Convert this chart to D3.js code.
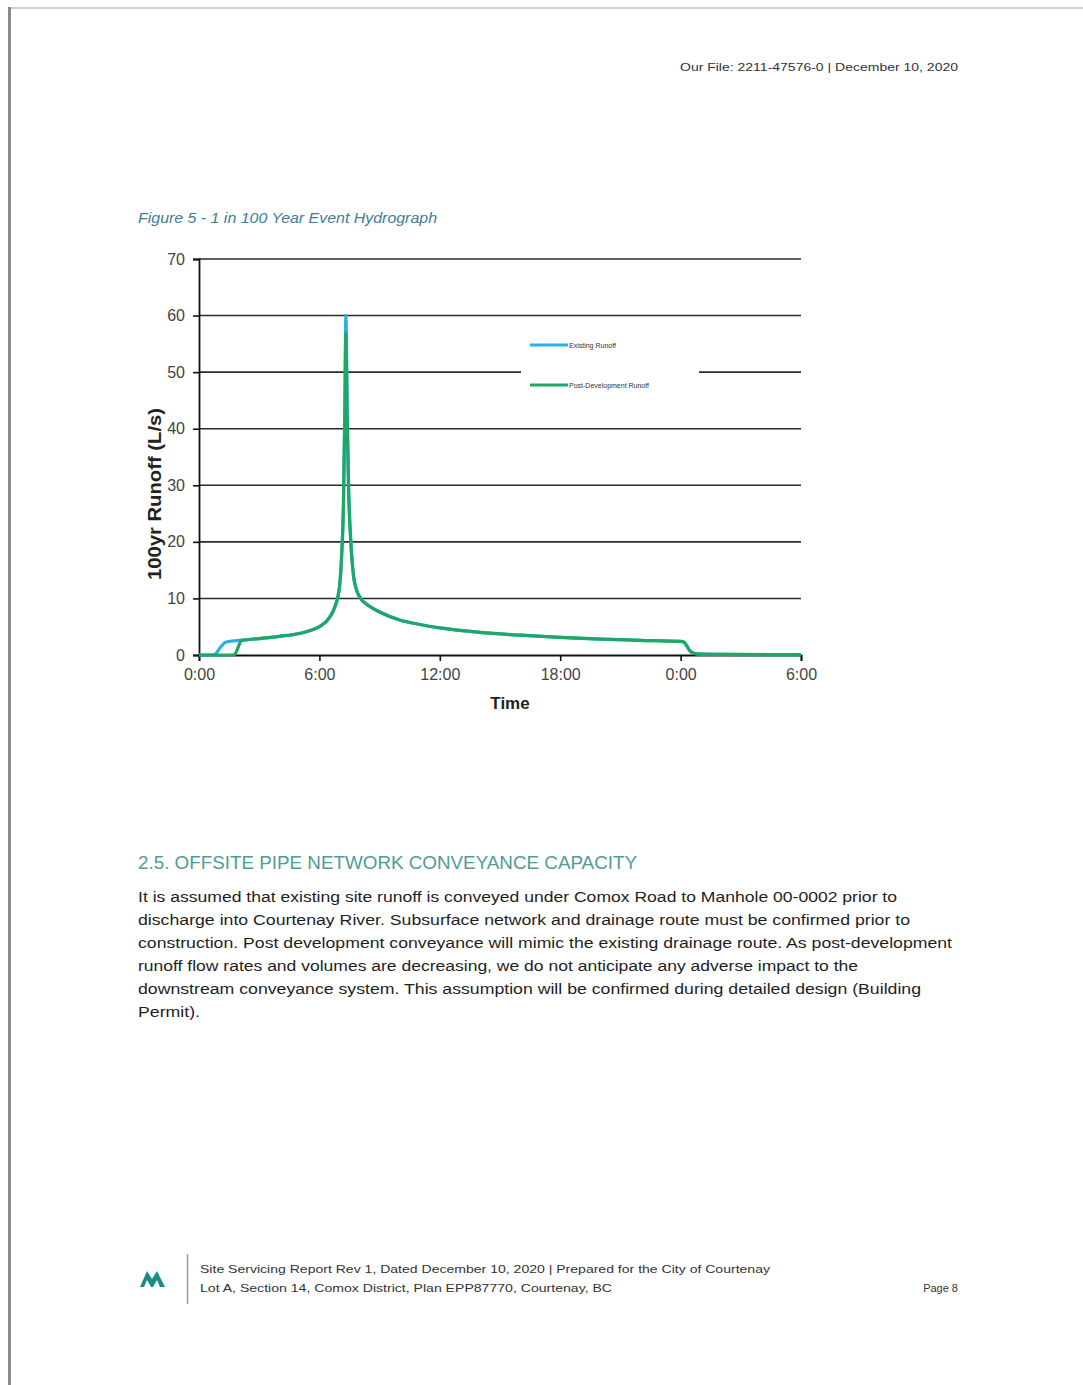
<!DOCTYPE html>
<html>
<head>
<meta charset="utf-8">
<script src="https://cdn.jsdelivr.net/npm/d3@7/dist/d3.min.js"></script>
<style>
  html, body { margin: 0; padding: 0; background: #fff; }
  svg { display: block; font-family: "Liberation Sans", Arial, sans-serif; }
</style>
</head>
<body>
<svg id="page" width="1083" height="1385"></svg>
<script>
// Hydrograph time base (hours from start of storm) and runoff in L/s
const timeHours = [0, 0.75, 0.85, 1.1, 1.3, 1.6, 1.75, 1.85, 2.0, 2.1, 2.3,
  3, 4, 5, 5.5, 6, 6.5, 6.75, 7.0, 7.1, 7.2, 7.27, 7.32, 7.38, 7.45, 7.55,
  7.7, 7.85, 8, 8.5, 9, 10, 11, 12, 14, 16, 18, 20, 22, 24, 24.15, 24.5,
  24.8, 26, 30];
const existingRunoff = [0, 0, 0.3, 1.5, 2.2, 2.45, 2.5, 2.55, 2.6, 2.62, 2.68,
  2.9, 3.3, 3.8, 4.3, 5.0, 6.6, 8.3, 12, 17, 27, 45, 60, 45, 30, 21,
  14, 11.5, 10.3, 8.6, 7.6, 6.2, 5.4, 4.8, 4.0, 3.5, 3.1, 2.8, 2.6, 2.4, 2.3, 0.6,
  0.2, 0.1, 0.05];
const postDevRunoff = [0, 0, 0, 0, 0, 0, 0, 0.5, 1.8, 2.5, 2.65,
  2.9, 3.3, 3.8, 4.3, 5.0, 6.6, 8.3, 12, 17, 27, 43, 57, 43, 30, 21,
  14, 11.5, 10.3, 8.6, 7.6, 6.2, 5.4, 4.8, 4.0, 3.5, 3.1, 2.8, 2.6, 2.4, 2.3, 0.6,
  0.2, 0.1, 0.05];

const seriesNames = ["Existing Runoff", "Post-Development Runoff"];
const seriesColors = ["#2bb0e6", "#1fa865"];

const xTickHours = [0, 6, 12, 18, 24, 30];
const xTickLabels = ["0:00", "6:00", "12:00", "18:00", "0:00", "6:00"];
const yTicks = [0, 10, 20, 30, 40, 50, 60, 70];

const bodyLines = [
  "It is assumed that existing site runoff is conveyed under Comox Road to Manhole 00-0002 prior to",
  "discharge into Courtenay River.  Subsurface network and drainage route must be confirmed prior to",
  "construction. Post development conveyance will mimic the existing drainage route.  As post-development",
  "runoff flow rates and volumes are decreasing, we do not anticipate any adverse impact to the",
  "downstream conveyance system.  This assumption will be confirmed during detailed design (Building",
  "Permit)."
];
const bodyLineWidths = [759, 772, 814, 720, 783, 62];

const svg = d3.select("#page");

// ---- page frame ----
svg.append("line").attr("x1", 9).attr("y1", 8).attr("x2", 1083).attr("y2", 8)
  .attr("stroke", "#cfcfcf").attr("stroke-width", 2);
svg.append("line").attr("x1", 9.5).attr("y1", 7).attr("x2", 9.5).attr("y2", 1385)
  .attr("stroke", "#8a8a8a").attr("stroke-width", 3);

// ---- header ----
svg.append("text").attr("x", 958).attr("y", 71).attr("text-anchor", "end")
  .attr("font-size", 11).attr("fill", "#333")
  .attr("textLength", 278).attr("lengthAdjust", "spacingAndGlyphs")
  .text("Our File: 2211-47576-0 | December 10, 2020");

svg.append("text").attr("x", 138).attr("y", 223)
  .attr("font-size", 14).attr("font-style", "italic").attr("fill", "#3f7d98")
  .attr("textLength", 299).attr("lengthAdjust", "spacingAndGlyphs")
  .text("Figure 5 - 1 in 100 Year Event Hydrograph");

// ---- chart ----
const plot = { left: 199, right: 801, top: 259, bottom: 655 };
const x = d3.scaleLinear().domain([0, 30]).range([plot.left, plot.right]);
const y = d3.scaleLinear().domain([0, 70]).range([plot.bottom, plot.top]);

const chart = svg.append("g");

// horizontal gridlines
chart.append("g").selectAll("line").data(yTicks.filter(d => d > 0)).join("line")
  .attr("x1", plot.left).attr("x2", plot.right)
  .attr("y1", d => y(d)).attr("y2", d => y(d))
  .attr("stroke", "#2b2b2b").attr("stroke-width", 1.6);

// y axis
const yAxis = chart.append("g").attr("transform", `translate(${plot.left},0)`)
  .call(d3.axisLeft(y).tickValues(yTicks).tickSize(6).tickPadding(8).tickFormat(d3.format("d")));
yAxis.select(".domain").attr("stroke", "#111").attr("stroke-width", 1.8);
yAxis.selectAll(".tick line").attr("stroke", "#111").attr("stroke-width", 1.6);
yAxis.selectAll(".tick text").attr("font-size", 16).attr("fill", "#444")
  .attr("font-family", "Liberation Sans, Arial, sans-serif");

// x axis
const xAxis = chart.append("g").attr("transform", `translate(0,${plot.bottom})`)
  .call(d3.axisBottom(x).tickValues(xTickHours).tickSize(6).tickPadding(8)
    .tickFormat((d, i) => xTickLabels[i]));
xAxis.select(".domain").attr("stroke", "#111").attr("stroke-width", 1.8);
xAxis.selectAll(".tick line").attr("stroke", "#111").attr("stroke-width", 1.6);
xAxis.selectAll(".tick text").attr("font-size", 16).attr("fill", "#444")
  .attr("font-family", "Liberation Sans, Arial, sans-serif");

// axis titles
svg.append("text").attr("x", 510).attr("y", 709).attr("text-anchor", "middle")
  .attr("font-size", 17).attr("font-weight", "bold").attr("fill", "#222").text("Time");
svg.append("text").attr("transform", "translate(161,494) rotate(-90)")
  .attr("text-anchor", "middle").attr("font-size", 18).attr("font-weight", "bold")
  .attr("fill", "#222").attr("textLength", 172).attr("lengthAdjust", "spacingAndGlyphs")
  .text("100yr Runoff (L/s)");

// series lines
const series = [existingRunoff, postDevRunoff];
const line = d3.line().x((d, i) => x(timeHours[i])).y(d => y(d)).curve(d3.curveMonotoneX);
chart.append("g").selectAll("path").data(series).join("path")
  .attr("d", d => line(d))
  .attr("fill", "none")
  .attr("stroke", (d, i) => seriesColors[i])
  .attr("stroke-width", 3.2)
  .attr("stroke-linejoin", "round");

// legend
const legend = svg.append("g");
legend.append("rect").attr("x", 521).attr("y", 330).attr("width", 178).attr("height", 68)
  .attr("fill", "#fff");
const legendY = [345, 385];
seriesNames.forEach((name, i) => {
  legend.append("line").attr("x1", 530).attr("x2", 568)
    .attr("y1", legendY[i]).attr("y2", legendY[i])
    .attr("stroke", seriesColors[i]).attr("stroke-width", 3);
  legend.append("text").attr("x", 569).attr("y", legendY[i] + 2.5)
    .attr("font-size", 7).attr("fill", "#333").text(name);
});

// ---- section text ----
svg.append("text").attr("x", 138).attr("y", 869)
  .attr("font-size", 19).attr("fill", "#4f9c98")
  .attr("textLength", 499).attr("lengthAdjust", "spacingAndGlyphs")
  .text("2.5. OFFSITE PIPE NETWORK CONVEYANCE CAPACITY");

svg.append("g").selectAll("text").data(bodyLines).join("text")
  .attr("x", 138).attr("y", (d, i) => 902 + i * 23)
  .attr("font-size", 15.5).attr("fill", "#1e1e1e")
  .attr("textLength", (d, i) => bodyLineWidths[i]).attr("lengthAdjust", "spacingAndGlyphs")
  .text(d => d);

// ---- footer ----
svg.append("path")
  .attr("d", "M140,1287 L147,1271 L152,1279 L157,1271 L165,1287 L160,1287 L157,1280 L153,1287 L151,1287 L147,1280 L144,1287 Z")
  .attr("fill", "#178f80");
svg.append("line").attr("x1", 187.5).attr("x2", 187.5).attr("y1", 1254).attr("y2", 1304)
  .attr("stroke", "#9a9a9a").attr("stroke-width", 1.5);
svg.append("text").attr("x", 200).attr("y", 1273).attr("font-size", 11).attr("fill", "#333")
  .attr("textLength", 570).attr("lengthAdjust", "spacingAndGlyphs")
  .text("Site Servicing Report Rev 1, Dated December 10, 2020 | Prepared for the City of Courtenay");
svg.append("text").attr("x", 200).attr("y", 1292).attr("font-size", 11).attr("fill", "#333")
  .attr("textLength", 412).attr("lengthAdjust", "spacingAndGlyphs")
  .text("Lot A, Section 14, Comox District, Plan EPP87770, Courtenay, BC");
svg.append("text").attr("x", 958).attr("y", 1292).attr("text-anchor", "end")
  .attr("font-size", 11).attr("fill", "#333").text("Page 8");
</script>
</body>
</html>
